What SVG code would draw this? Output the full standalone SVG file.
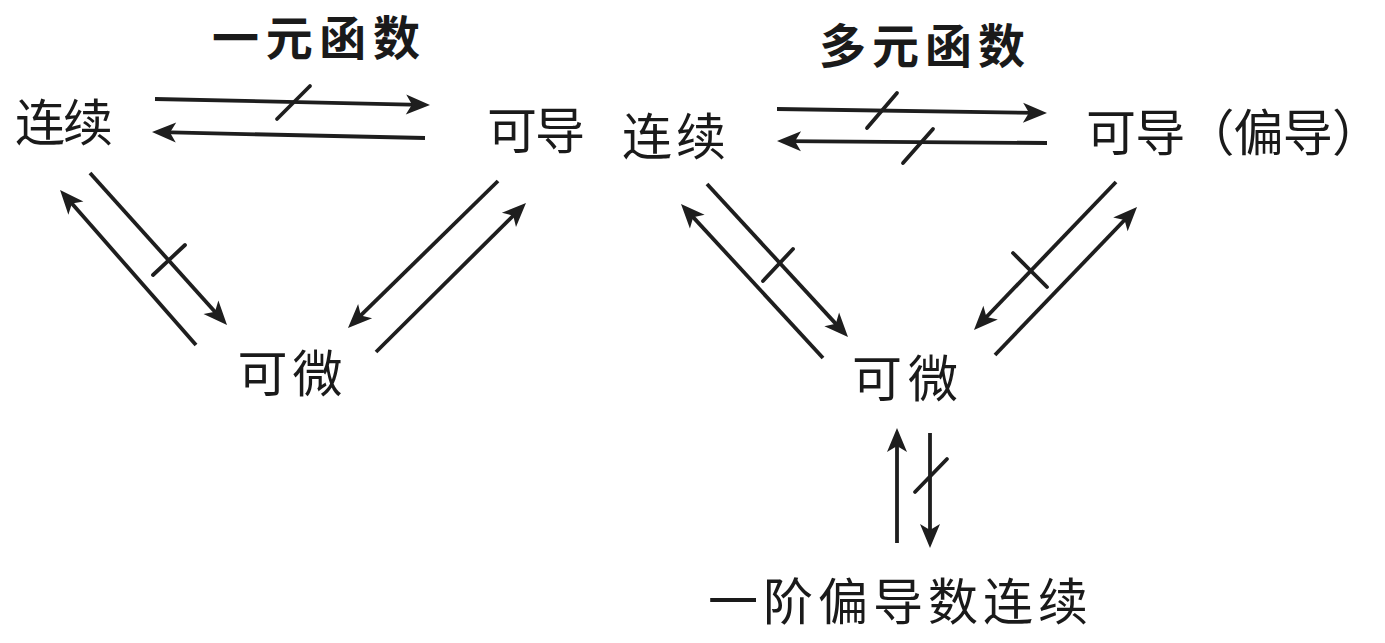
<svg xmlns="http://www.w3.org/2000/svg" width="1385" height="643" viewBox="0 0 1385 643">
<style>
.t{font-family:"Noto Sans CJK SC","Noto Sans CJK JP",sans-serif;font-size:50px;fill:#1a1a1a;text-anchor:middle}
.b{font-weight:bold;font-size:47px}
.a{stroke:#1e1e1e;stroke-width:3.8;fill:none;marker-end:url(#ah)}
.s{stroke:#1e1e1e;stroke-width:3.8;fill:none;stroke-linecap:round}
</style>
<defs>
<marker id="ah" markerUnits="userSpaceOnUse" markerWidth="26" markerHeight="22" refX="15" refY="10" orient="auto" overflow="visible">
<path d="M0,0 L24,10 L0,20 L6,10 z" fill="#1e1e1e"/>
</marker>
</defs>
<rect width="1385" height="643" fill="#fff"/>
<g id="title-one"><text class="t b" x="316" y="55" textLength="208" lengthAdjust="spacing">一元函数</text></g>
<g id="title-multi"><text class="t b" x="922" y="63" textLength="206" lengthAdjust="spacing">多元函数</text></g>
<g id="n1-cont"><text class="t" x="64" y="141" textLength="98" lengthAdjust="spacing">连续</text></g>
<g id="n1-deriv"><text class="t" x="536" y="149" textLength="98" lengthAdjust="spacing">可导</text></g>
<g id="n1-diff"><text class="t" x="290" y="392" textLength="105" lengthAdjust="spacing">可微</text></g>
<g id="n2-cont"><text class="t" x="674" y="155" textLength="104" lengthAdjust="spacing">连续</text></g>
<g id="n2-deriv"><text class="t" x="1234" y="151" textLength="296" lengthAdjust="spacing">可导（偏导）</text></g>
<g id="n2-diff"><text class="t" x="905" y="397" textLength="106" lengthAdjust="spacing">可微</text></g>
<g id="n2-partial"><text class="t" x="898" y="620" textLength="380" lengthAdjust="spacing">一阶偏导数连续</text></g>
<g id="connectors">
<line class="a" x1="155" y1="99" x2="421" y2="104.8"/>
<line class="s" x1="277" y1="119" x2="310" y2="86"/>
<line class="a" x1="425" y1="138" x2="161" y2="132.2"/>
<line class="a" x1="90" y1="173" x2="221" y2="318.4"/>
<line class="s" x1="153" y1="275" x2="185" y2="245"/>
<line class="a" x1="196" y1="345" x2="66" y2="196.8"/>
<line class="a" x1="498" y1="181" x2="354.4" y2="321.7"/>
<line class="a" x1="376" y1="352" x2="519.6" y2="209.3"/>
<line class="a" x1="777" y1="109" x2="1038" y2="112.9"/>
<line class="s" x1="867" y1="128" x2="897" y2="93"/>
<line class="a" x1="1047" y1="143" x2="786" y2="141.06"/>
<line class="s" x1="903" y1="163" x2="933" y2="129"/>
<line class="a" x1="707" y1="184" x2="841.9" y2="330.4"/>
<line class="s" x1="763" y1="281" x2="793" y2="249"/>
<line class="a" x1="823" y1="358" x2="687.1" y2="210.6"/>
<line class="a" x1="1116" y1="182" x2="980.2" y2="323.5"/>
<line class="s" x1="1013" y1="253" x2="1047" y2="287"/>
<line class="a" x1="995" y1="355" x2="1130.8" y2="213.5"/>
<line class="a" x1="897" y1="543" x2="897" y2="437"/>
<line class="a" x1="930" y1="433" x2="930" y2="539"/>
<line class="s" x1="915" y1="492" x2="947" y2="459"/>
</g>
</svg>
